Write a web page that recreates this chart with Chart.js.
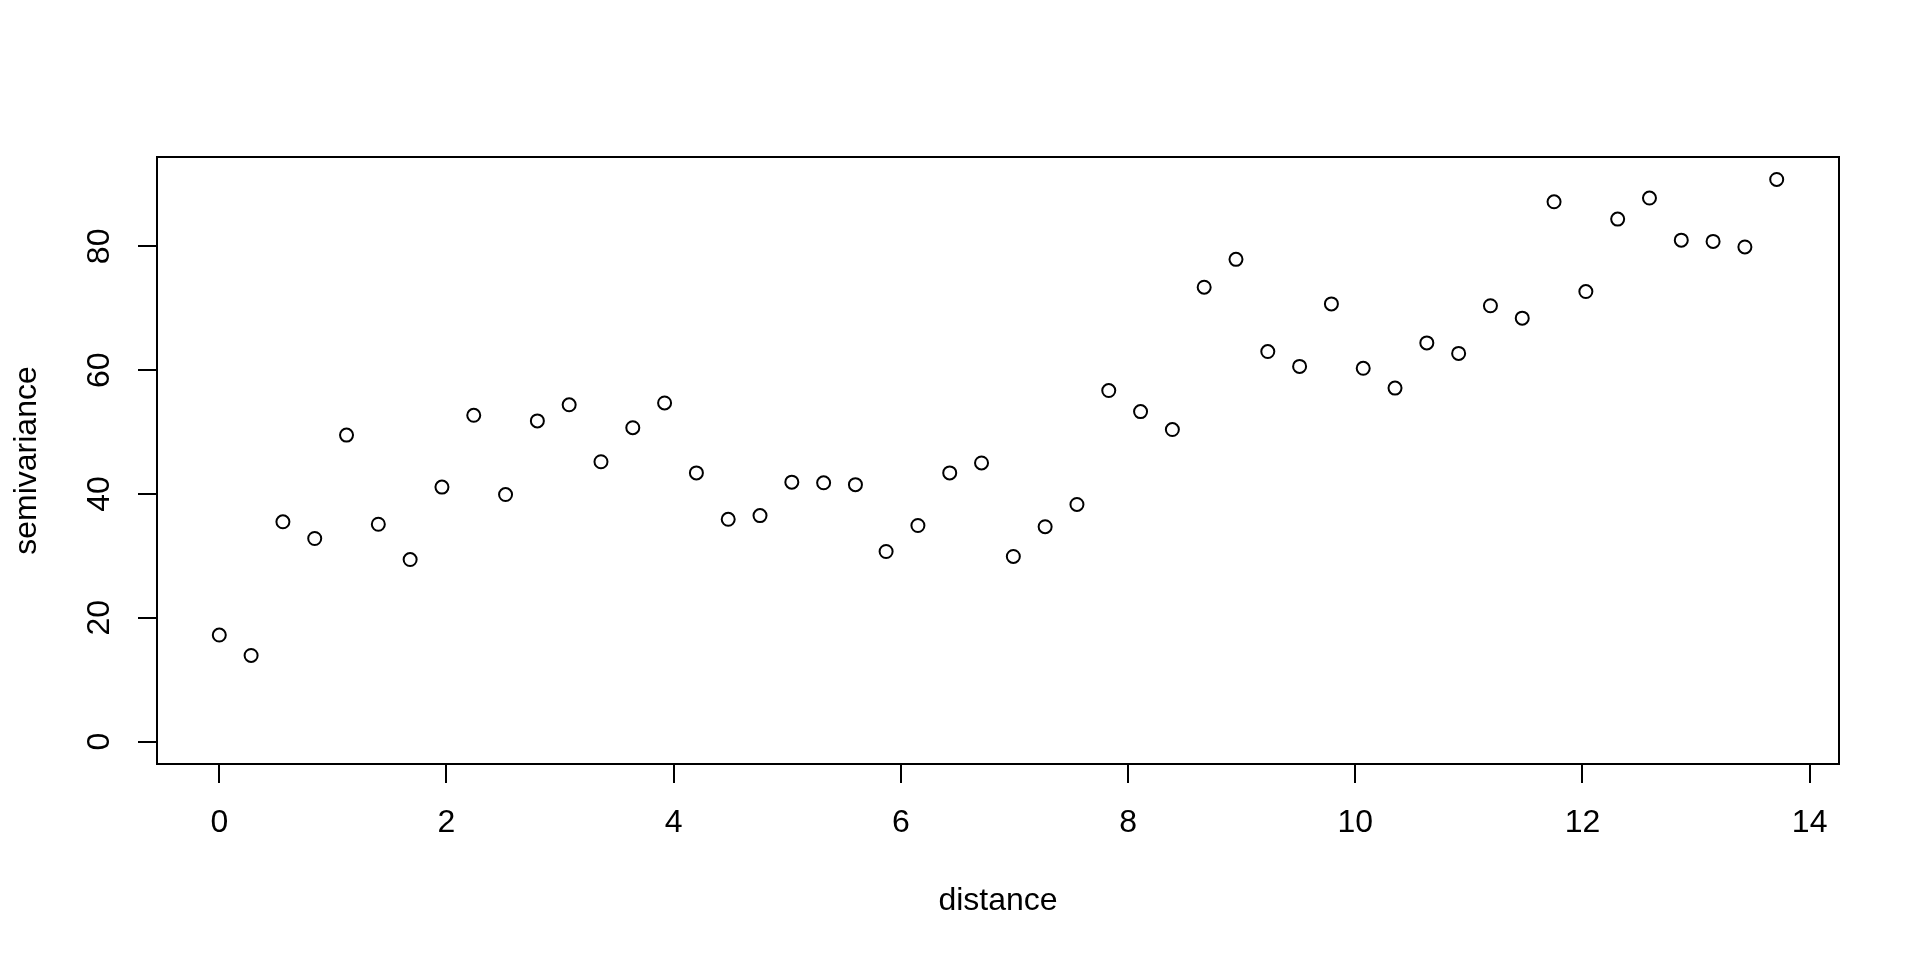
<!DOCTYPE html>
<html>
<head>
<meta charset="utf-8">
<title>semivariance</title>
<script src="https://cdn.jsdelivr.net/npm/chart.js@4"></script>
<style>
    html, body { margin: 0; padding: 0; background: #ffffff; }
    #wrap { width: 1920px; height: 960px; }
</style>
</head>
<body>
<div id="wrap"><canvas id="variogramChart" width="1920" height="960"></canvas></div>
<script>
// 거리 (lag distance)
const distance = [0.00, 0.28, 0.56, 0.84, 1.12, 1.40, 1.68, 1.96, 2.24, 2.52,
                  2.80, 3.08, 3.36, 3.64, 3.92, 4.20, 4.48, 4.76, 5.04, 5.32,
                  5.60, 5.87, 6.15, 6.43, 6.71, 6.99, 7.27, 7.55, 7.83, 8.11,
                  8.39, 8.67, 8.95, 9.23, 9.51, 9.79, 10.07, 10.35, 10.63, 10.91,
                  11.19, 11.47, 11.75, 12.03, 12.31, 12.59, 12.87, 13.15, 13.43, 13.71];

// semivariance 값
const semivariance = [17.2, 13.9, 35.5, 32.8, 49.5, 35.1, 29.4, 41.1, 52.7, 39.9,
                      51.8, 54.4, 45.2, 50.7, 54.7, 43.4, 35.9, 36.5, 41.9, 41.8,
                      41.5, 30.7, 34.9, 43.4, 45.0, 29.9, 34.7, 38.3, 56.7, 53.3,
                      50.4, 73.4, 77.9, 63.0, 60.6, 70.7, 60.3, 57.1, 64.4, 62.7,
                      70.4, 68.4, 87.2, 72.7, 84.4, 87.8, 81.0, 80.8, 79.9, 90.8];

// 눈금
const xTicks = [0, 2, 4, 6, 8, 10, 12, 14];
const yTicks = [0, 20, 40, 60, 80];

// R 기본 축 범위: 데이터 범위 + 양쪽 4%
const xLim = [0, 13.71];
const yLim = [0, 90.8];
const xPad = (xLim[1] - xLim[0]) * 0.04;
const yPad = (yLim[1] - yLim[0]) * 0.04;

const fontFamily = '"Liberation Sans", Arial, Helvetica, sans-serif';

// 플롯 영역 테두리 (box)
const boxPlugin = {
    id: 'plotBox',
    afterDatasetsDraw(chart) {
        const a = chart.chartArea;
        const ctx = chart.ctx;
        ctx.save();
        ctx.strokeStyle = '#000000';
        ctx.lineWidth = 2;
        ctx.strokeRect(a.left, a.top, a.right - a.left, a.bottom - a.top);
        ctx.restore();
    }
};

const points = distance.map((d, i) => ({ x: d, y: semivariance[i] }));

const ctx = document.getElementById('variogramChart');
new Chart(ctx, {
    type: 'scatter',
    data: {
        datasets: [{
            label: 'semivariance',
            data: points,
            pointStyle: 'circle',
            pointRadius: 6.5,
            pointHoverRadius: 6.5,
            borderWidth: 2,
            borderColor: '#000000',
            backgroundColor: 'rgba(0,0,0,0)'
        }]
    },
    options: {
        responsive: false,
        animation: false,
        devicePixelRatio: 1,
        events: [],
        layout: {
            padding: { left: 0, top: 157, right: 81, bottom: 0 }
        },
        plugins: {
            legend: { display: false },
            tooltip: { enabled: false }
        },
        scales: {
            x: {
                type: 'linear',
                position: 'bottom',
                min: xLim[0] - xPad,
                max: xLim[1] + xPad,
                afterBuildTicks: function(scale) {
                    scale.ticks = xTicks.map(v => ({ value: v }));
                },
                afterFit: function(scale) {
                    scale.height = 196;
                },
                border: { display: false },
                grid: {
                    drawOnChartArea: false,
                    drawTicks: true,
                    tickLength: 19,
                    color: '#000000',
                    lineWidth: 2
                },
                ticks: {
                    autoSkip: false,
                    maxRotation: 0,
                    padding: 21,
                    color: '#000000',
                    font: { family: fontFamily, size: 32 },
                    callback: v => String(v)
                },
                title: {
                    display: true,
                    text: 'distance',
                    color: '#000000',
                    font: { family: fontFamily, size: 32, lineHeight: 1 },
                    padding: { top: 0, bottom: 43 }
                }
            },
            y: {
                type: 'linear',
                position: 'left',
                min: yLim[0] - yPad,
                max: yLim[1] + yPad,
                afterBuildTicks: function(scale) {
                    scale.ticks = yTicks.map(v => ({ value: v }));
                },
                afterFit: function(scale) {
                    scale.width = 157;
                },
                border: { display: false },
                grid: {
                    drawOnChartArea: false,
                    drawTicks: true,
                    tickLength: 19,
                    color: '#000000',
                    lineWidth: 2
                },
                ticks: {
                    autoSkip: false,
                    minRotation: 90,
                    maxRotation: 90,
                    crossAlign: 'center',
                    padding: 20,
                    color: '#000000',
                    font: { family: fontFamily, size: 32 },
                    callback: v => String(v)
                },
                title: {
                    display: true,
                    text: 'semivariance',
                    color: '#000000',
                    font: { family: fontFamily, size: 32, lineHeight: 1 },
                    padding: { top: 11, bottom: 0 }
                }
            }
        }
    },
    plugins: [boxPlugin]
});
</script>
</body>
</html>
